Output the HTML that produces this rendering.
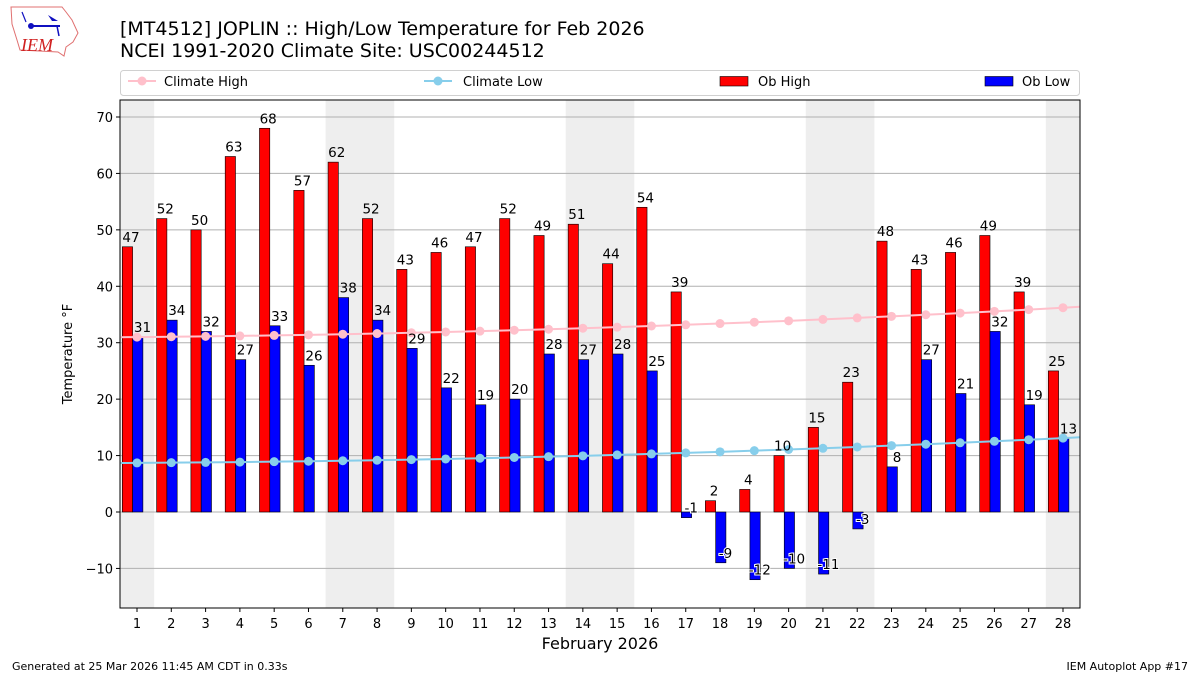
<!DOCTYPE html>
<html><head><meta charset="utf-8"><style>
body{margin:0;background:#fff;width:1200px;height:675px;overflow:hidden;font-family:"Liberation Sans","DejaVu Sans",sans-serif}
</style></head><body>
<svg id="s" width="1200" height="675" xmlns="http://www.w3.org/2000/svg" font-family="DejaVu Sans, Liberation Sans, sans-serif">
<g id="logo">
<path d="M11,7 L62,7 L66,12 L72,20 L78,33 L73,42 L66,47 L64,56 L58,52 L20,50 L17,40 L12,24 Z" fill="#fff" stroke="#e07070" stroke-width="1"/>
<line x1="30" y1="26" x2="60" y2="26" stroke="#1010c0" stroke-width="2"/>
<circle cx="31" cy="26" r="3" fill="#1010c0"/>
<path d="M48,15 L58,21 L52,21 Z" fill="#1010c0"/>
<line x1="57" y1="26" x2="59" y2="36" stroke="#1010c0" stroke-width="1.5"/>
<line x1="22" y1="12" x2="26" y2="22" stroke="#1010c0" stroke-width="1.2"/>
<text x="21" y="51" font-family="Liberation Serif, serif" font-style="italic" font-size="18" fill="#d02020">IEM</text>
</g>
<text x="120" y="35" font-size="19" fill="#000">[MT4512] JOPLIN :: High/Low Temperature for Feb 2026</text>
<text x="120" y="57" font-size="19" fill="#000">NCEI 1991-2020 Climate Site: USC00244512</text>
<g id="plot"></g>
<text x="12" y="670" font-size="11">Generated at 25 Mar 2026 11:45 AM CDT in 0.33s</text>
<text x="1188" y="670" font-size="11" text-anchor="end">IEM Autoplot App #17</text>
</svg>
<script>
var hi=[47,52,50,63,68,57,62,52,43,46,47,52,49,51,44,54,39,2,4,10,15,23,48,43,46,49,39,25];
var lo=[31,34,32,27,33,26,38,34,29,22,19,20,28,27,28,25,-1,-9,-12,-10,-11,-3,8,27,21,32,19,13];
function X(d){return 137+(d-1)*34.296;}
function Y(v){return 512-v*5.643;}
function CH(d){var t=d-1;return 31.0+0.0537*t+0.00514*t*t;}
function CL(d){var t=d-1;return 8.7+0.0352*t+0.00473*t*t;}
var L=120,R=1080,T=100,B=608,o='';
[[1,1],[7,8],[14,15],[21,22],[28,28]].forEach(function(w){var a=Math.max(L,X(w[0])-17.15),b=Math.min(R,X(w[1])+17.15);o+='<rect x="'+a+'" y="'+T+'" width="'+(b-a)+'" height="'+(B-T)+'" fill="#eeeeee"/>';});
for(var v=-10;v<=70;v+=10){var y=Y(v);o+='<line x1="'+L+'" x2="'+R+'" y1="'+y+'" y2="'+y+'" stroke="#b0b0b0" stroke-width="1"/>';o+='<line x1="'+(L-4)+'" x2="'+L+'" y1="'+y+'" y2="'+y+'" stroke="#000"/>';o+='<text x="'+(L-7)+'" y="'+(y+5)+'" font-size="13" text-anchor="end">'+(v<0?'\u221210':v)+'</text>';}
for(var d=1;d<=28;d++){var x=X(d);
 var h=hi[d-1],l=lo[d-1];
 o+='<rect x="'+(x-14.7)+'" y="'+Math.min(Y(h),Y(0))+'" width="10.3" height="'+Math.abs(Y(h)-Y(0))+'" fill="#ff0000" stroke="#000" stroke-width="0.6"/>';
 o+='<rect x="'+(x-4.4)+'" y="'+Math.min(Y(l),Y(0))+'" width="10.3" height="'+Math.abs(Y(l)-Y(0))+'" fill="#0000ff" stroke="#000" stroke-width="0.6"/>';
 o+='<line x1="'+x+'" x2="'+x+'" y1="'+B+'" y2="'+(B+4)+'" stroke="#000"/>';
 o+='<text x="'+x+'" y="'+(B+20)+'" font-size="13" text-anchor="middle">'+d+'</text>';
}
var ch='',cl='',cc='';
for(var d=1;d<=28;d++){var vh=CH(d),vl=CL(d);var x=X(d);
 ch+='L'+x+','+Y(vh);cl+='L'+x+','+Y(vl);
 cc+='<circle cx="'+x+'" cy="'+Y(vh)+'" r="4.5" fill="#ffc0cb"/><circle cx="'+x+'" cy="'+Y(vl)+'" r="4.5" fill="#87ceeb"/>';}
o+='<path d="M'+L+','+Y(CH(0.5))+ch+'L'+R+','+Y(CH(28.5))+'" fill="none" stroke="#ffc0cb" stroke-width="2"/>';
o+='<path d="M'+L+','+Y(CL(0.5))+cl+'L'+R+','+Y(CL(28.5))+'" fill="none" stroke="#87ceeb" stroke-width="2"/>';
o+=cc;
for(var d=1;d<=28;d++){var x=X(d),h=hi[d-1],l=lo[d-1];
 o+='<text x="'+(x-6)+'" y="'+(Y(Math.max(h,0))-5)+'" font-size="13.5" text-anchor="middle">'+h+'</text>';
 o+='<text x="'+(x+5.5)+'" y="'+(Y(l)-5)+'" font-size="13.5" text-anchor="middle"'+(l<0?' stroke="#fff" stroke-width="2" paint-order="stroke"':'')+'>'+l+'</text>';
}
o+='<rect x="'+L+'" y="'+T+'" width="'+(R-L)+'" height="'+(B-T)+'" fill="none" stroke="#000" stroke-width="1"/>';
o+='<text x="600" y="649" font-size="16" text-anchor="middle">February 2026</text>';
o+='<text transform="translate(72,354) rotate(-90)" font-size="13" text-anchor="middle">Temperature \u00b0F</text>';
o+='<rect x="120.5" y="70.5" width="959" height="25" rx="3" fill="#fff" stroke="#d0d0d0"/>';
o+='<line x1="128" x2="156" y1="81" y2="81" stroke="#ffc0cb" stroke-width="2"/><circle cx="142" cy="81" r="4.5" fill="#ffc0cb"/><text x="164" y="86" font-size="13">Climate High</text>';
o+='<line x1="424" x2="452" y1="81" y2="81" stroke="#87ceeb" stroke-width="2"/><circle cx="438" cy="81" r="4.5" fill="#87ceeb"/><text x="463" y="86" font-size="13">Climate Low</text>';
o+='<rect x="720" y="76.5" width="28" height="9.5" fill="#ff0000" stroke="#000" stroke-width="0.6"/><text x="758" y="86" font-size="13">Ob High</text>';
o+='<rect x="985" y="76.5" width="28" height="9.5" fill="#0000ff" stroke="#000" stroke-width="0.6"/><text x="1022" y="86" font-size="13">Ob Low</text>';
document.getElementById('plot').innerHTML=o;
</script>
</body></html>
